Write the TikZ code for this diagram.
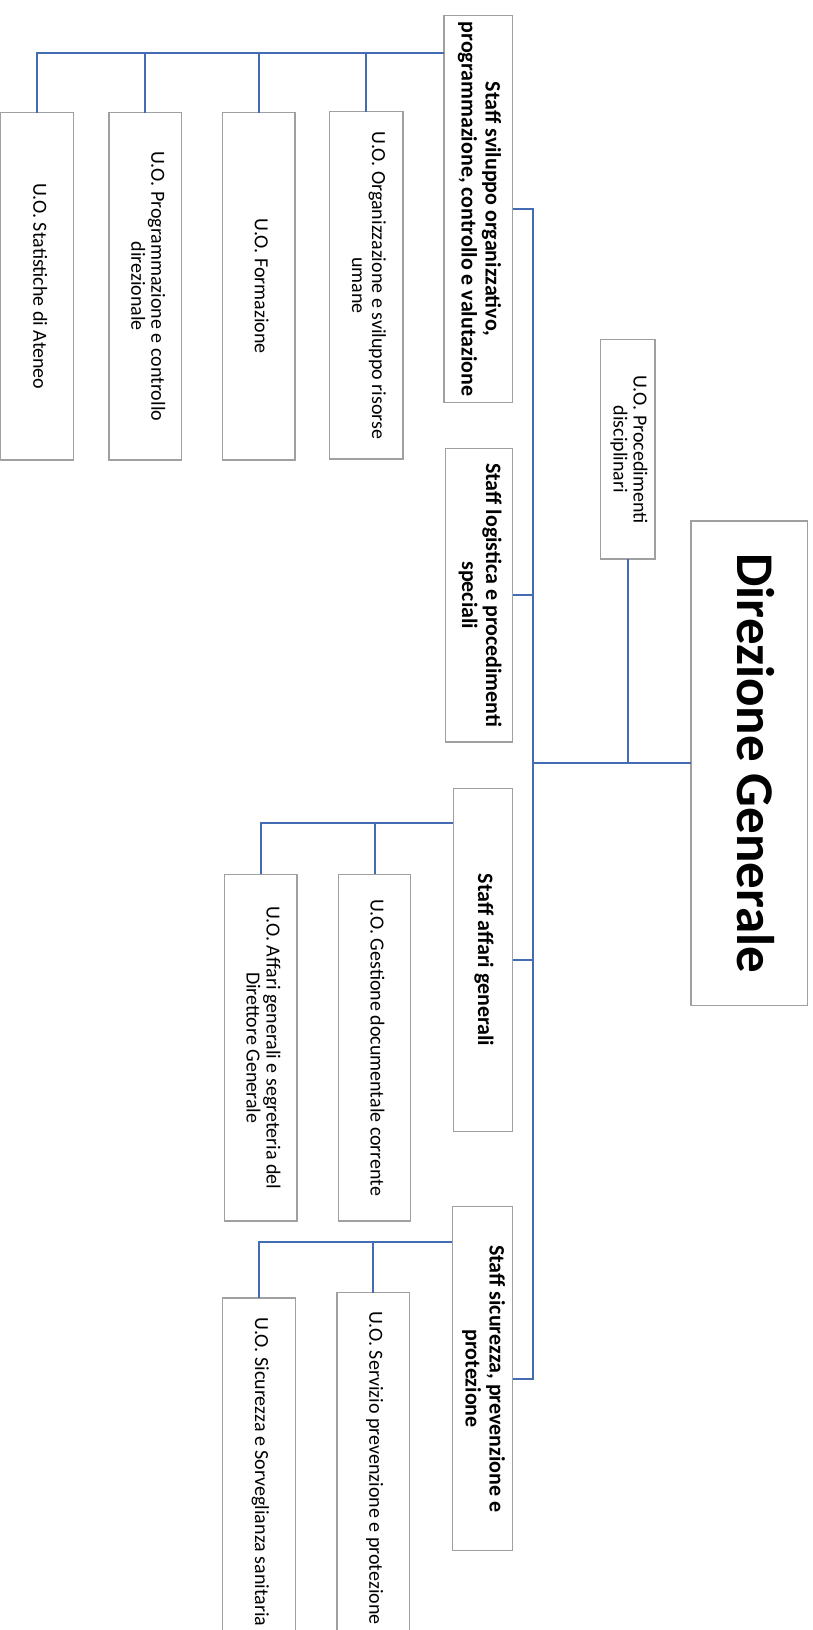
\documentclass[tikz,border=0pt]{standalone}
\usepackage{graphicx}
\usepackage{fontspec}
\setmainfont{Carlito}
\definecolor{conncol}{RGB}{68,108,180}
\definecolor{boxgray}{RGB}{160,160,160}
\newcommand{\vtext}[1]{\rotatebox{-90}{\begin{tabular}{@{}c@{}}#1\end{tabular}}}
\begin{document}
\begin{tikzpicture}[x=1pt,y=-1pt,
  box/.style={draw=boxgray, line width=1.3pt, fill=white, inner sep=0pt, outer sep=0pt},
  conn/.style={draw=conncol, line width=2pt},
  uo/.style={box, font=\fontsize{20}{20}\selectfont},
  staff/.style={box, font=\fontsize{22}{24}\selectfont\bfseries},
  top/.style={box, font=\fontsize{53}{60}\selectfont\bfseries}]
\useasboundingbox (0,0) rectangle (813,1630);
\clip (0,0) rectangle (813,1630);

% main boxes
\node[top, minimum width=116.3pt, minimum height=484.4pt] (dg) at (749.2,763.2) {\vtext{Direzione Generale}};
\node[uo, minimum width=54.7pt, minimum height=219.2pt] (proc) at (627.7,449.4) {\vtext{U.O. Procedimenti\\disciplinari}};

% staff boxes
\node[staff, minimum width=68.7pt, minimum height=387.4pt] (s1) at (478.35,209) {\vtext{Staff sviluppo organizzativo,\\programmazione, controllo e valutazione}};
\node[staff, minimum width=67.4pt, minimum height=293.7pt] (s2) at (479,595.2) {\vtext{Staff logistica e procedimenti\\speciali}};
\node[staff, minimum width=59.4pt, minimum height=343.4pt] (s3) at (483,960) {\vtext{Staff affari generali}};
\node[staff, minimum width=60.4pt, minimum height=344pt] (s4) at (482.5,1378.7) {\vtext{Staff sicurezza, prevenzione e\\protezione}};

% U.O. under staff sviluppo
\node[uo, minimum width=73.7pt, minimum height=347.3pt] (u11) at (366.2,285.4) {\vtext{U.O. Organizzazione e sviluppo risorse\\umane}};
\node[uo, minimum width=72.3pt, minimum height=347.3pt] (u12) at (258.8,286.3) {\vtext{U.O. Formazione}};
\node[uo, minimum width=72.7pt, minimum height=347.3pt] (u13) at (145.3,286.3) {\vtext{U.O. Programmazione e controllo\\direzionale}};
\node[uo, minimum width=73pt, minimum height=347.3pt] (u14) at (37.3,286.3) {\vtext{U.O. Statistiche di Ateneo}};

% U.O. under staff affari generali
\node[uo, minimum width=72.4pt, minimum height=346.7pt] (u31) at (374.5,1047.7) {\vtext{U.O. Gestione documentale corrente}};
\node[uo, minimum width=72.7pt, minimum height=346.7pt] (u32) at (260.7,1047.7) {\vtext{U.O. Affari generali e segreteria del\\Direttore Generale}};

% U.O. under staff sicurezza
\node[uo, minimum width=72.7pt, minimum height=350.3pt] (u41) at (373.4,1467.9) {\vtext{U.O. Servizio prevenzione e protezione}};
\node[uo, minimum width=72.6pt, minimum height=348pt] (u42) at (259,1472) {\vtext{U.O. Sicurezza e Sorveglianza sanitaria}};

% connectors
\coordinate (tk) at (532.7,763.2);
\draw[conn] (dg.west) -- (tk);
\draw[conn] (proc.south) -- (proc.south |- dg.west);
\draw[conn] (s1.east) -| (tk);
\draw[conn] (s4.east) -| (tk);
\draw[conn] (s2.east) -- (s2.east -| tk);
\draw[conn] (s3.east) -- (s3.east -| tk);

\coordinate (bus1) at (444,53.3);
\draw[conn] (bus1) -| (u14.north);
\foreach \u in {u11,u12,u13} \draw[conn] (\u.north) -- (\u.north |- bus1);

\coordinate (bus3) at (453.3,823.3);
\draw[conn] (bus3) -| (u32.north);
\draw[conn] (u31.north) -- (u31.north |- bus3);

\coordinate (bus4) at (452.3,1241.7);
\draw[conn] (bus4) -| (u42.north);
\draw[conn] (u41.north) -- (u41.north |- bus4);
\end{tikzpicture}
\end{document}
